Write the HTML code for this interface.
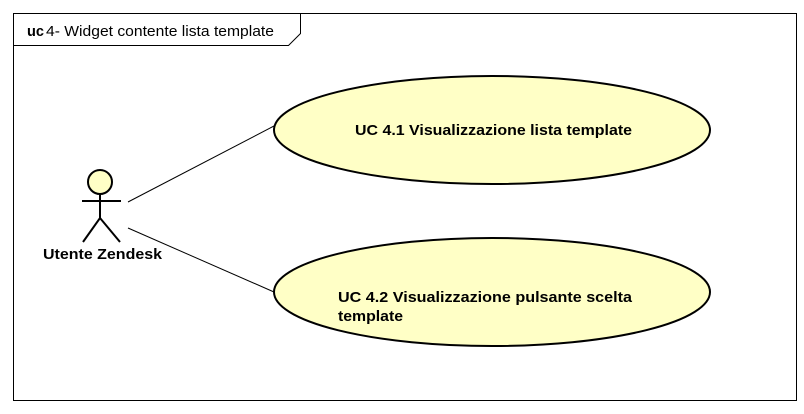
<!DOCTYPE html>
<html><head><meta charset="utf-8"><style>body{margin:0;background:#fff}</style></head>
<body>
<svg width="804" height="414" xmlns="http://www.w3.org/2000/svg" style="display:block;font-family:'Liberation Sans',sans-serif">
<rect x="13.5" y="13.5" width="783" height="387" fill="#fff" stroke="#000" stroke-width="1"/>
<polyline points="13.5,45.5 288.5,45.5 300.5,33.5 300.5,13.5" fill="none" stroke="#000" stroke-width="1"/>
<text x="27" y="36" font-size="15" font-weight="bold" textLength="17" lengthAdjust="spacingAndGlyphs">uc</text>
<text x="46" y="36" font-size="15" textLength="228" lengthAdjust="spacingAndGlyphs">4- Widget contente lista template</text>
<line x1="128" y1="202" x2="274" y2="126" stroke="#000" stroke-width="1"/>
<line x1="128" y1="228" x2="274" y2="292" stroke="#000" stroke-width="1"/>
<ellipse cx="492" cy="130" rx="218" ry="54" fill="#ffffc6" stroke="#000" stroke-width="2"/>
<ellipse cx="492" cy="292" rx="218" ry="54" fill="#ffffc6" stroke="#000" stroke-width="2"/>
<text x="355" y="135" font-size="15" font-weight="bold" textLength="277" lengthAdjust="spacingAndGlyphs">UC 4.1 Visualizzazione lista template</text>
<text x="338" y="302" font-size="15" font-weight="bold" textLength="294" lengthAdjust="spacingAndGlyphs">UC 4.2 Visualizzazione pulsante scelta</text>
<text x="338" y="321" font-size="15" font-weight="bold" textLength="65" lengthAdjust="spacingAndGlyphs">template</text>
<circle cx="100" cy="182" r="12" fill="#ffffc6" stroke="#000" stroke-width="2"/>
<line x1="82" y1="201" x2="121" y2="201" stroke="#000" stroke-width="2"/>
<line x1="100" y1="194" x2="100" y2="218" stroke="#000" stroke-width="2"/>
<polyline points="83,242 100,218 120,242" fill="none" stroke="#000" stroke-width="2"/>
<text x="43" y="259" font-size="15" font-weight="bold" textLength="119" lengthAdjust="spacingAndGlyphs">Utente Zendesk</text>
</svg>
</body></html>
